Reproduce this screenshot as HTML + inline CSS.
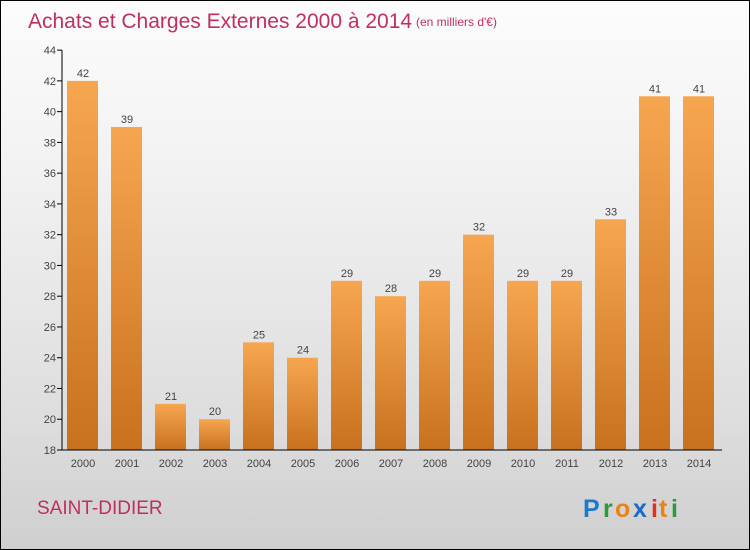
<!DOCTYPE html>
<html><head><meta charset="utf-8"><style>
body{margin:0}
#c{width:748px;height:548px;border:1px solid #000;position:relative;background:linear-gradient(#fcfcfc,#f2f2f2 30%,#dedede 75%,#cfcfcf);font-family:"Liberation Sans",sans-serif;overflow:hidden}
</style></head><body>
<div id="c">
<svg width="748" height="548" xmlns="http://www.w3.org/2000/svg" id="svg">
<defs><linearGradient id="bg" x1="0" y1="0" x2="0" y2="1"><stop offset="0" stop-color="#f7a650"/><stop offset="1" stop-color="#c8711e"/></linearGradient></defs>
<text x="27" y="27" font-size="21" fill="#c0305e">Achats et Charges Externes 2000 à 2014</text>
<text x="415" y="25" font-size="12" fill="#c0305e">(en milliers d'€)</text>
<text x="36" y="513" font-size="19" fill="#c0305e">SAINT-DIDIER</text>
<g font-size="25" font-weight="bold">
<text x="582" y="516" fill="#1a7ad0">P</text><text x="602" y="516" fill="#2a9a3a">r</text><text x="614" y="516" fill="#f08010">o</text><text x="632" y="516" fill="#1a6ac8">x</text><text x="650" y="516" fill="#e03020">i</text><text x="658" y="516" fill="#f08010">t</text><text x="670" y="516" fill="#2a9a3a">i</text></g>
<g id="plot"></g>
</svg>
</div>
<script>
const categories=["2000","2001","2002","2003","2004","2005","2006","2007","2008","2009","2010","2011","2012","2013","2014"];
const values=[42,39,21,20,25,24,29,28,29,32,29,29,33,41,41];
const yTicks=[18,20,22,24,26,28,30,32,34,36,38,40,42,44];
const NS="http://www.w3.org/2000/svg";
const g=document.getElementById('plot');
const y=v=>449-(v-18)*15.38;
const x=i=>81+i*44;
function el(t,a,txt){const e=document.createElementNS(NS,t);for(const k in a)e.setAttribute(k,a[k]);if(txt!=null)e.textContent=txt;g.appendChild(e);return e;}
yTicks.forEach(t=>{
 const l=el('line',{x1:56,x2:61,y1:y(t),y2:y(t),stroke:'#000'});
 
 
 const tx=el('text',{x:55,y:y(t)+4,'font-size':11,fill:'#444','text-anchor':'end'},t);
 
 
});
values.forEach((v,i)=>{
 const r=el('rect',{x:x(i)-15,y:y(v),width:31,height:y(18)-y(v),fill:'url(#bg)'});
 
 
 const t=el('text',{x:x(i)+1,y:y(v)-4,'font-size':11,fill:'#444','text-anchor':'middle'},v);
 
 
 const c=el('text',{x:x(i)+1,y:466,'font-size':11,fill:'#444','text-anchor':'middle'},categories[i]);
 
 
});
const ya=el('line',{x1:61,x2:61,y1:y(44),y2:y(18),stroke:'#000'});


const xa=el('line',{x1:61,x2:721,y1:y(18),y2:y(18),stroke:'#000'});


</script>
</body></html>
